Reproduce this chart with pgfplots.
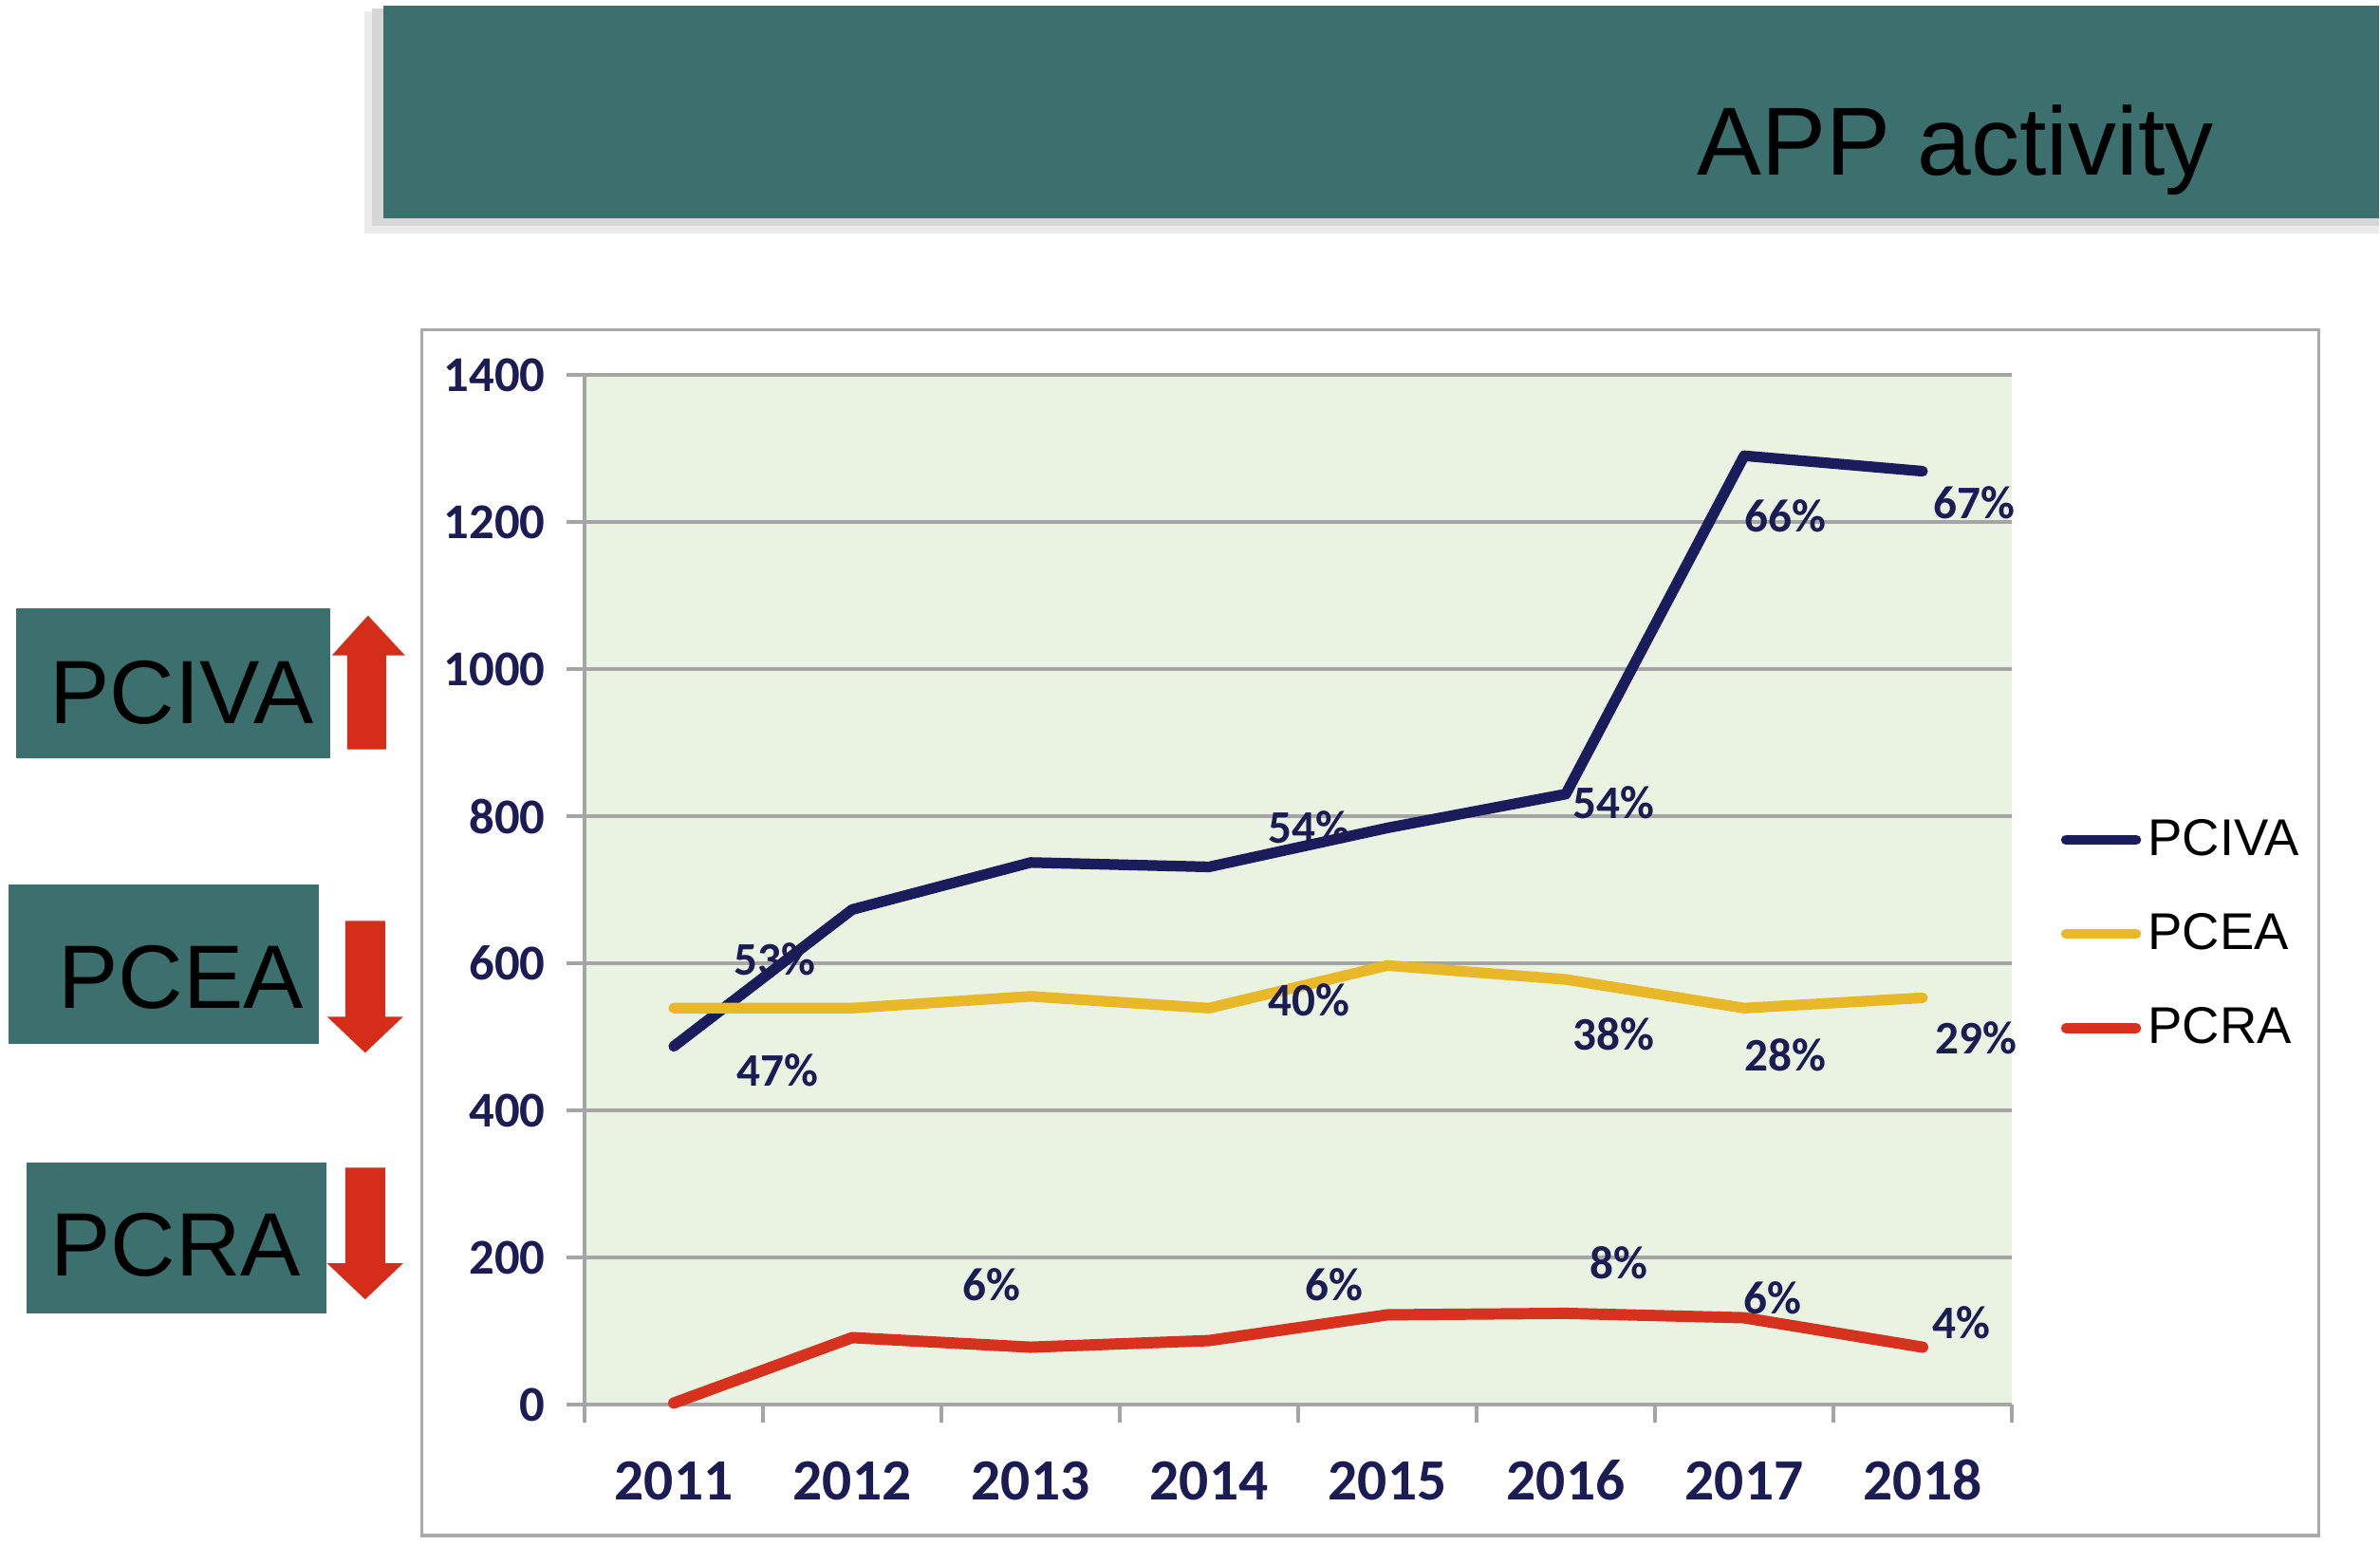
\documentclass[border=0pt]{standalone}
\usepackage{pgfplots}
\pgfplotsset{compat=1.18}
\usepackage{fontspec}
\setmainfont{Liberation Sans}
\newfontfamily\carlito{Carlito}
\definecolor{navyline}{RGB}{27,28,92}
\definecolor{yelline}{RGB}{232,184,40}
\definecolor{redline}{RGB}{215,50,30}
\definecolor{labnavy}{RGB}{28,28,85}
\definecolor{plotbg}{RGB}{234,242,225}
\definecolor{tealbox}{RGB}{60,112,110}
\definecolor{gridgray}{RGB}{165,165,165}
\definecolor{framegray}{RGB}{170,170,170}
\definecolor{arrowred}{RGB}{212,46,26}
\begin{document}
\begin{tikzpicture}
\path[use as bounding box] (0,0) rectangle (25.08cm,16.27cm);
\begin{scope}[x=0.01cm,y=-0.01cm,shift={(0cm,16.27cm)}]
 % banner
 \fill[black!8] (384,12) rectangle (2508,246);
 \fill[black!16] (392,9) rectangle (2508,238);
 \fill[tealbox] (404,6) rectangle (2508,230);
 \node[anchor=base west, inner sep=0pt, font=\fontsize{29}{29}\selectfont] at (1789,185) {APP activity};
 % chart frame
 \draw[framegray, line width=0.9pt] (445,348) rectangle (2445,1619);
 % left boxes
 \fill[tealbox] (17,641) rectangle (348,799);
 \node[anchor=base west, inner sep=0pt, font=\fontsize{27}{27}\selectfont] at (52,763) {PCIVA};
 \fill[tealbox] (9,933) rectangle (336,1101);
 \node[anchor=base west, inner sep=0pt, font=\fontsize{27}{27}\selectfont] at (61,1063) {PCEA};
 \fill[tealbox] (28,1226) rectangle (344,1385);
 \node[anchor=base west, inner sep=0pt, font=\fontsize{27}{27}\selectfont] at (53,1345) {PCRA};
 % arrows
 \fill[arrowred] (366,790) -- (366,691) -- (350,691) -- (388,649) -- (427,691) -- (407,691) -- (407,790) -- cycle;
 \fill[arrowred] (364,971) -- (364,1072) -- (345,1072) -- (385,1110) -- (425,1072) -- (406,1072) -- (406,971) -- cycle;
 \fill[arrowred] (364,1231) -- (364,1332) -- (345,1332) -- (385,1370) -- (425,1332) -- (406,1332) -- (406,1231) -- cycle;
\end{scope}
\begin{axis}[
 at={(6.16cm,1.47cm)}, anchor=south west,
 scale only axis, width=15.04cm, height=10.85cm,
 xmin=-0.5, xmax=7.5, ymin=0, ymax=1400,
 axis lines*=left,
 axis line style={draw=gridgray, line width=0.9pt},
 axis background/.style={fill=plotbg},
 ymajorgrids, grid style={gridgray, line width=0.9pt},
 ytick={0,200,...,1400},
 xtick={-0.5,0.5,...,7.5}, xticklabels={},
 extra x ticks={0,1,...,7},
 extra x tick labels={2011,2012,2013,2014,2015,2016,2017,2018},
 extra x tick style={major tick length=0pt, grid=none},
 tick align=outside, major tick length=0.19cm,
 tick style={draw=gridgray, line width=0.9pt},
 /pgf/number format/1000 sep={},
 /pgf/number format/assume math mode=true,
 yticklabel style={font=\carlito\bfseries\fontsize{15}{15}\selectfont, text=labnavy, xshift=-0.1cm},
 xticklabel style={font=\carlito\bfseries\fontsize{17.5}{17.5}\selectfont, text=labnavy, yshift=-0.48cm, text height=0.40cm, text depth=0cm},
 clip=false,
 legend style={at={(1.034,0.457)}, anchor=west, draw=none, fill=none, inner sep=0pt,
   font=\fontsize{15.5}{15.5}\selectfont, row sep=0.42cm, column sep=0cm},
 legend cell align=left,
 legend image code/.code={\draw[#1, line width=3pt, line cap=round] (0cm,0cm) -- (0.74cm,0cm);},
]
\addplot[navyline, line width=3.2pt, line join=round, line cap=round]
 coordinates {(0,487) (1,673) (2,737) (3,731) (4,784) (5,830) (6,1290) (7,1269)};
\addlegendentry{PCIVA}
\addplot[yelline, line width=3.2pt, line join=round, line cap=round]
 coordinates {(0,539) (1,539) (2,555) (3,539) (4,597) (5,578) (6,539) (7,553)};
\addlegendentry{PCEA}
\addplot[redline, line width=3.4pt, line join=round, line cap=round]
 coordinates {(0,2) (1,91) (2,78) (3,87) (4,122) (5,124) (6,118) (7,78)};
\addlegendentry{PCRA}
\begin{scope}[every node/.style={font=\carlito\bfseries\fontsize{14}{14}\selectfont, text=labnavy, inner sep=0pt}]
\node at (axis cs:0.564,605) {53\%};
\node at (axis cs:0.58,454) {47\%};
\node at (axis cs:3.56,785) {54\%};
\node at (axis cs:3.56,550) {40\%};
\node at (axis cs:5.27,818) {54\%};
\node at (axis cs:5.27,503) {38\%};
\node at (axis cs:6.23,1208) {66\%};
\node at (axis cs:6.23,475) {28\%};
\node at (axis cs:7.29,1226) {67\%};
\node at (axis cs:7.30,498) {29\%};
\node at (axis cs:1.78,163) {6\%};
\node at (axis cs:3.70,163) {6\%};
\node at (axis cs:5.30,192) {8\%};
\node at (axis cs:6.16,145) {6\%};
\node at (axis cs:7.22,111) {4\%};
\end{scope}
\end{axis}
\end{tikzpicture}
\end{document}
